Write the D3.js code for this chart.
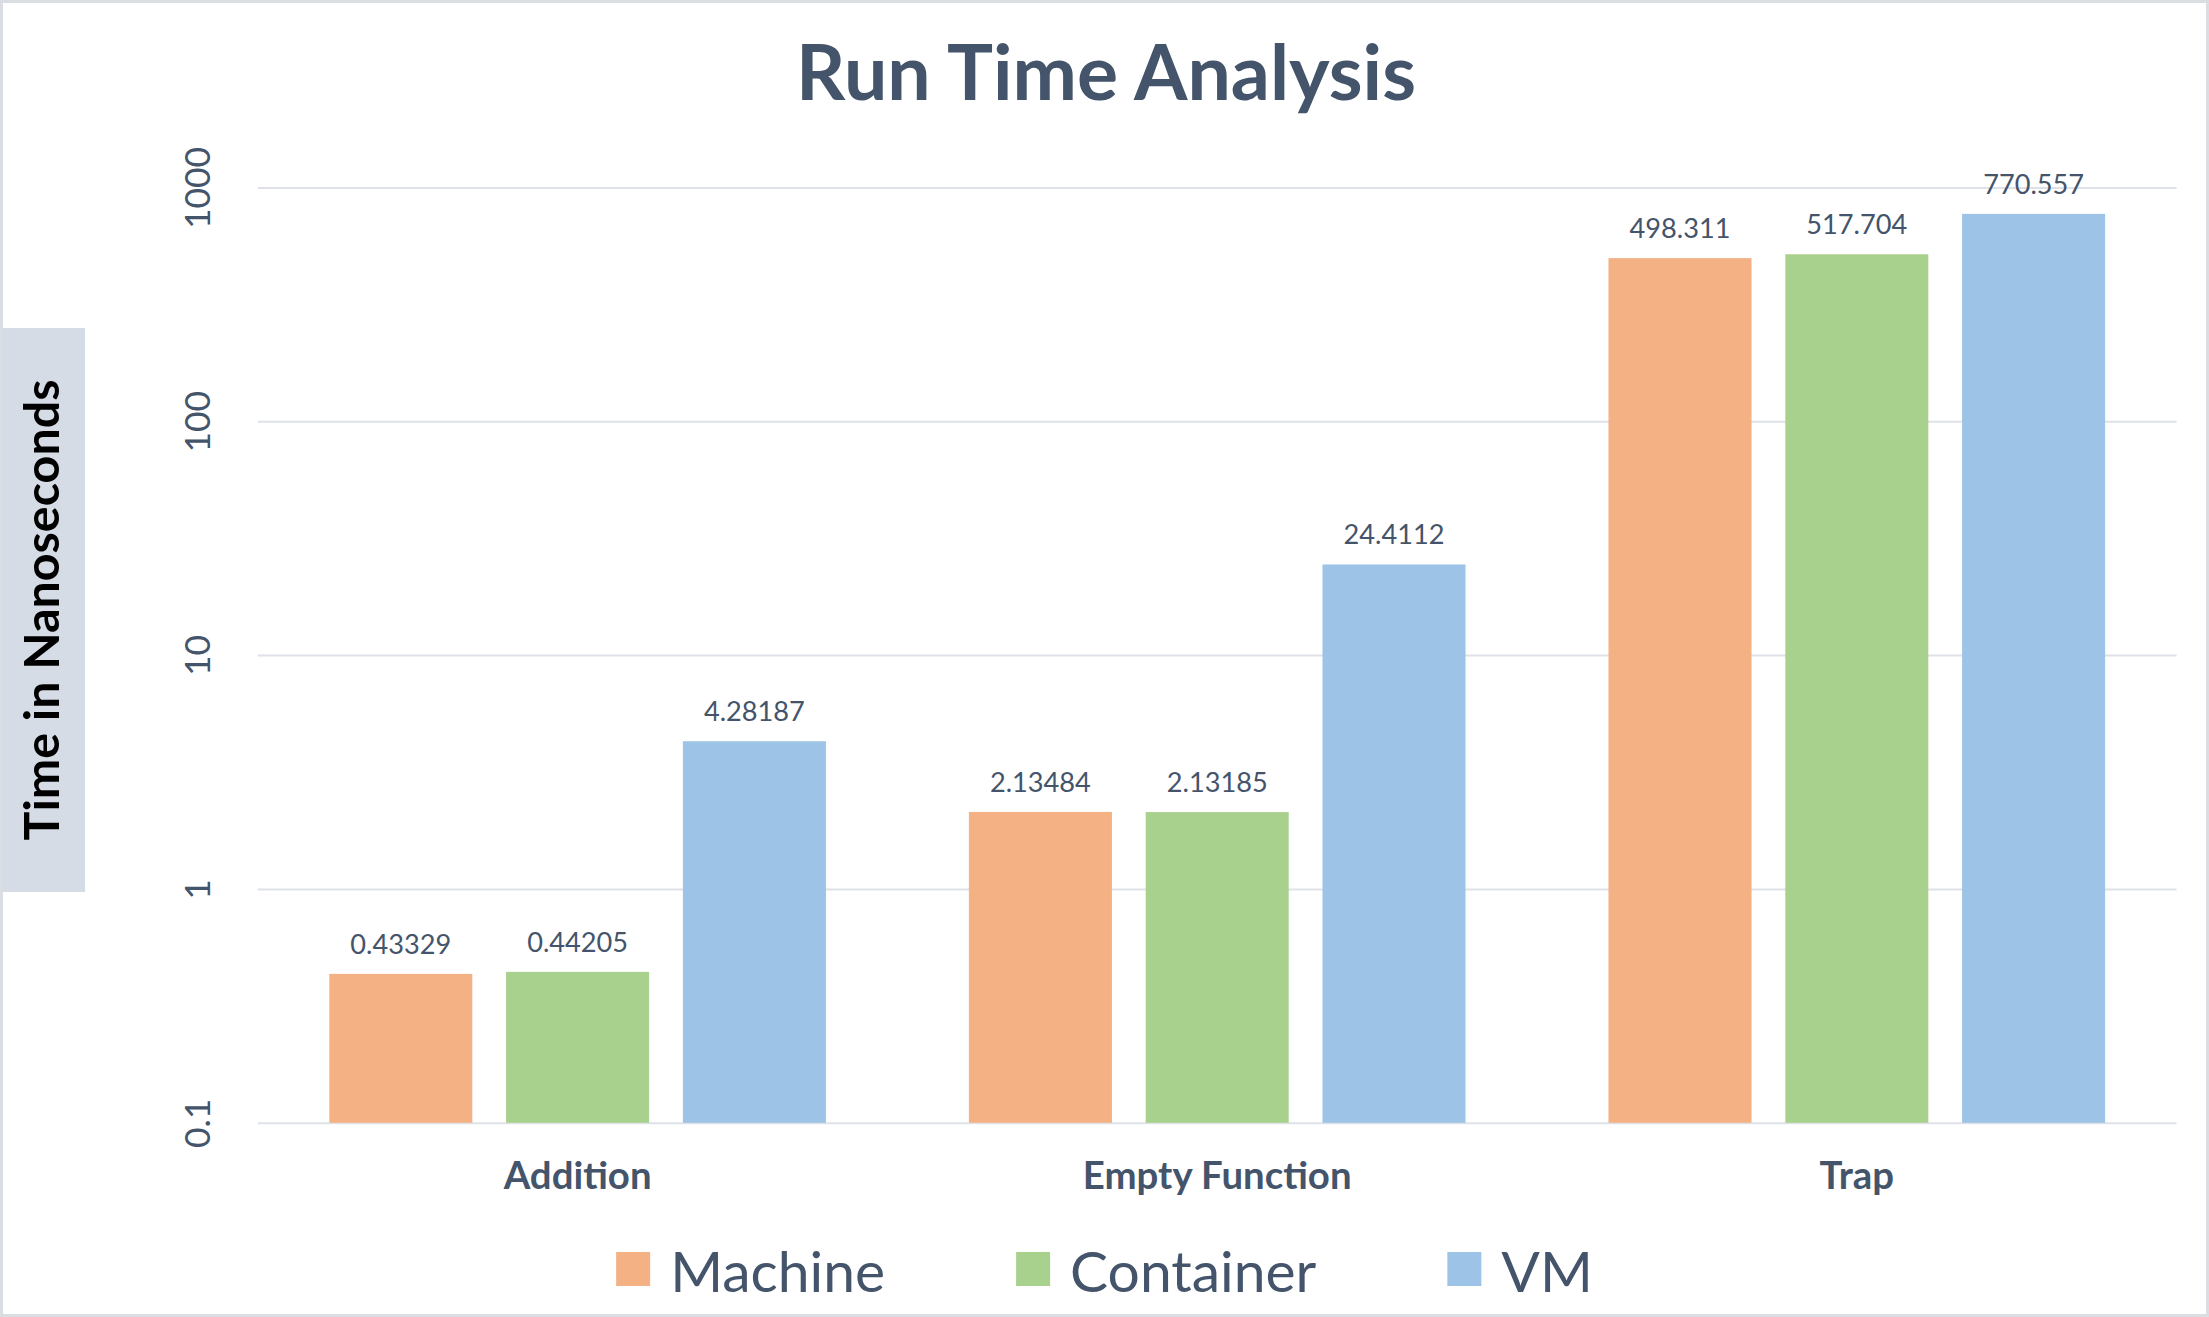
<!DOCTYPE html>
<html>
<head>
<meta charset="utf-8">
<script src="https://cdn.jsdelivr.net/npm/d3@7"></script>
<style>
  html, body { margin: 0; padding: 0; background: #ffffff; }
  svg { display: block; }
</style>
</head>
<body>
<svg id="chart" width="2209" height="1317"></svg>
<script>
// ---------------- DATA ----------------
const categories = ["Addition", "Empty Function", "Trap"];
const seriesNames = ["Machine", "Container", "VM"];
const machineValues = [0.43329, 2.13484, 498.311];
const containerValues = [0.44205, 2.13185, 517.704];
const vmValues = [4.28187, 24.4112, 770.557];
const valueLabels = [
  ["0.43329", "2.13484", "498.311"],
  ["0.44205", "2.13185", "517.704"],
  ["4.28187", "24.4112", "770.557"]
];
const tickValues = [0.1, 1, 10, 100, 1000];
const tickLabels = ["0.1", "1", "10", "100", "1000"];
const titleText = "Run Time Analysis";
const yAxisTitle = "Time in Nanoseconds";

// ---------------- STYLE / LAYOUT ----------------
const W = 2209, H = 1317;
const FONT = "Lato, 'Open Sans', 'Noto Sans', sans-serif";
const TEXT = "#44546A";
const GRID = "#DEE2E8";
const colors = ["#F4B183", "#A9D18E", "#9DC3E6"];
const plot = { left: 257.8, right: 2176.6, top: 187.4, bottom: 1122.8 };

const seriesValues = [machineValues, containerValues, vmValues];

const svg = d3.select("#chart");

function fit(sel, target) {
  const w = sel.node().getComputedTextLength();
  const fs = parseFloat(sel.attr("font-size"));
  const nfs = fs * target / w;
  sel.attr("font-size", nfs);
  return nfs;
}
function measureSize(text, weight, target) {
  const t = svg.append("text").attr("font-family", FONT).attr("font-weight", weight)
    .attr("font-size", 100).text(text);
  const w = t.node().getComputedTextLength();
  t.remove();
  return 100 * target / w;
}

// background + border
svg.append("rect").attr("x", 0).attr("y", 0).attr("width", W).attr("height", H).attr("fill", "#ffffff");
svg.append("rect").attr("x", 1.5).attr("y", 1.5).attr("width", W - 3).attr("height", H - 3)
  .attr("fill", "none").attr("stroke", "#DADEE3").attr("stroke-width", 3);

// scales
const x0 = d3.scaleBand().domain(categories).range([plot.left, plot.right]).paddingInner(0).paddingOuter(0);
const x1 = d3.scaleBand().domain(seriesNames).range([0, x0.bandwidth()]).paddingInner(0.191).paddingOuter(0.4043);
const y = d3.scaleLog().domain([0.1, 1000]).range([plot.bottom, plot.top]);

// y axis with gridlines
const yAxis = d3.axisLeft(y).tickValues(tickValues)
  .tickFormat((d, i) => tickLabels[i])
  .tickSize(-(plot.right - plot.left)).tickPadding(0);
const gy = svg.append("g").attr("transform", `translate(${plot.left},0)`).call(yAxis);
gy.select(".domain").remove();
gy.selectAll(".tick line").attr("stroke", GRID).attr("stroke-width", 2);
const tickFs = measureSize("1000", 400, 82);
gy.selectAll(".tick text")
  .attr("font-family", FONT).attr("font-size", tickFs).attr("fill", TEXT)
  .attr("x", null).attr("dy", null).attr("text-anchor", "middle")
  .attr("transform", `translate(${210 - plot.left},0) rotate(-90)`);

// bars
const groups = svg.append("g").selectAll("g").data(categories).join("g")
  .attr("transform", d => `translate(${x0(d)},0)`);
groups.selectAll("rect")
  .data((c, ci) => seriesNames.map((s, si) => ({ s, si, v: seriesValues[si][ci] })))
  .join("rect")
  .attr("x", d => x1(d.s))
  .attr("y", d => y(d.v))
  .attr("width", x1.bandwidth())
  .attr("height", d => y(0.1) - y(d.v))
  .attr("fill", d => colors[d.si]);

// value labels
const valFs = measureSize("4.28187", 400, 101);
groups.selectAll("text.val")
  .data((c, ci) => seriesNames.map((s, si) => ({ s, si, v: seriesValues[si][ci], label: valueLabels[si][ci] })))
  .join("text").attr("class", "val")
  .attr("x", d => x1(d.s) + x1.bandwidth() / 2)
  .attr("y", d => y(d.v) - 20)
  .attr("text-anchor", "middle")
  .attr("font-family", FONT).attr("font-size", valFs).attr("fill", TEXT)
  .text(d => d.label);

// category labels
const catFs = measureSize("Addition", 700, 148);
svg.append("g").selectAll("text").data(categories).join("text")
  .attr("x", d => x0(d) + x0.bandwidth() / 2)
  .attr("y", 1189)
  .attr("text-anchor", "middle")
  .attr("font-family", FONT).attr("font-weight", 700).attr("font-size", catFs).attr("fill", TEXT)
  .text(d => d);

// title
const title = svg.append("text").attr("x", 1106).attr("y", 100).attr("text-anchor", "middle")
  .attr("font-family", FONT).attr("font-weight", 700).attr("font-size", 80).attr("fill", TEXT)
  .text(titleText);
fit(title, 620);

// y axis title box
svg.append("rect").attr("x", 2).attr("y", 328).attr("width", 83).attr("height", 564).attr("fill", "#D6DCE5");
const yt = svg.append("text").attr("transform", "translate(59,610) rotate(-90)")
  .attr("text-anchor", "middle")
  .attr("font-family", FONT).attr("font-weight", 700).attr("font-size", 50).attr("fill", "#000000")
  .text(yAxisTitle);
fit(yt, 461);

// legend
const legFs = measureSize("Machine", 400, 215);
const legend = svg.append("g");
const sq = 34, gapSqText = 20, gapItems = 131;
const items = legend.selectAll("g").data(seriesNames).join("g");
items.append("rect").attr("width", sq).attr("height", sq).attr("y", 1252)
  .attr("fill", (d, i) => colors[i]);
items.append("text").attr("x", sq + gapSqText).attr("y", 1292)
  .attr("font-family", FONT).attr("font-size", legFs).attr("fill", TEXT)
  .text(d => d);
let widths = [];
items.each(function () { widths.push(sq + gapSqText + d3.select(this).select("text").node().getComputedTextLength()); });
const total = d3.sum(widths) + gapItems * (widths.length - 1);
let cx = W / 2 - total / 2;
items.each(function (d, i) {
  d3.select(this).attr("transform", `translate(${cx},0)`);
  cx += widths[i] + gapItems;
});
</script>
</body>
</html>
